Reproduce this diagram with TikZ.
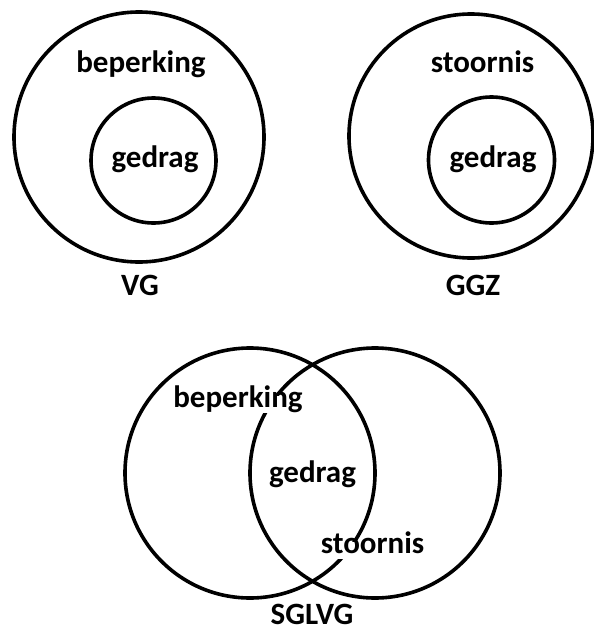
\documentclass[tikz,border=0pt]{standalone}
\usepackage{fontspec}
\setmainfont{Carlito}
\begin{document}
\begin{tikzpicture}[x=1pt,y=-1pt,
  ring/.style={draw=black,line width=3.6pt,circle,inner sep=0pt},
  lbl/.style={anchor=base,font=\bfseries\fontsize{31}{36}\selectfont,
    fill=white,inner xsep=2pt,inner ysep=4pt,text height=0.7em,text depth=0.2em},
  edgelbl/.style={lbl,fill=none,inner sep=0pt,text height=0.62em,text depth=0pt}]
\useasboundingbox (0,0) rectangle (594,632);
% VG
\node[ring,minimum size=250pt] (vgout) at (139,137) {};
\node[ring,minimum size=125pt] (vgin) at (153.5,160.5) {};
% GGZ
\node[ring,minimum size=244pt] (ggzout) at (471,136) {};
\node[ring,minimum size=126pt] (ggzin) at (491.5,160) {};
% SGLVG
\node[ring,minimum size=250pt] (sl) at (250,473) {};
\node[ring,minimum size=250pt] (sr) at (375,473) {};
% labels
\node[lbl] (t1) at (141,72) {beperking};
\node[lbl] (t2) at (155,167) {gedrag};
\node[lbl] (t3) at (140,295) {VG};
\node[lbl] (t4) at (482.5,72) {stoornis};
\node[lbl] (t5) at (493,167) {gedrag};
\node[lbl] (t6) at (473,295) {GGZ};
\node[lbl] (t7) at (238,407) {beperking};
\node[lbl] (t8) at (312.5,482) {gedrag};
\node[lbl] (t9) at (372.5,553) {stoornis};
\node[edgelbl] (t10) at (312,624) {SGLVG};
\end{tikzpicture}
\end{document}
